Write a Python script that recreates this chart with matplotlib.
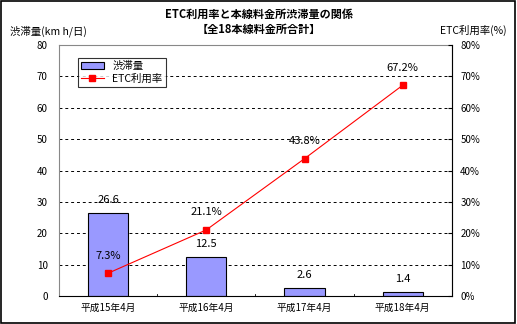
import numpy as np
import matplotlib.pyplot as plt
from matplotlib.ticker import FuncFormatter

plt.rcParams['font.family'] = ['Noto Sans CJK JP', 'DejaVu Sans']

# Data
periods = ['平成15年4月', '平成16年4月', '平成17年4月', '平成18年4月']
congestion = [26.6, 12.5, 2.6, 1.4]      # km・h/日
etc_rate = [7.3, 21.1, 43.8, 67.2]       # %

fig = plt.figure(figsize=(5.17, 3.24), dpi=100)
fig.patch.set_facecolor('white')
fig.patches.append(plt.Rectangle((0.002, 0.003), 0.995, 0.994, transform=fig.transFigure,
                                 fill=False, edgecolor='black', linewidth=1.2))

ax = fig.add_axes([0.114, 0.086, 0.760, 0.775])
x = np.arange(len(periods))

bars = ax.bar(x, congestion, width=0.41, color='#9999FF', edgecolor='black',
              linewidth=0.8, label='渋滞量', zorder=2)
ax.set_xlim(-0.5, len(periods) - 0.5)
ax.set_ylim(0, 80)
ax.set_yticks(range(0, 81, 10))
ax.set_xticks(x)
ax.set_xticklabels(periods, fontsize=7)
ax.tick_params(axis='y', labelsize=7, length=0, pad=8)
ax.tick_params(axis='x', length=0, pad=5)
for v in range(10, 80, 10):
    ax.axhline(v, color='black', linestyle=(0, (3, 3)), linewidth=0.7, zorder=1)
for s in ['top', 'left', 'right']:
    ax.spines[s].set_color('#888888')
    ax.spines[s].set_linewidth(0.8)
ax.spines['bottom'].set_linewidth(0.8)
# small category separator ticks
for b in np.arange(0.5, len(periods) - 0.5, 1):
    ax.plot([b, b], [0, 0.8], color='black', linewidth=0.6, zorder=3)

for xi, v in zip(x, congestion):
    ax.text(xi, v + 2.5, f'{v}', ha='center', va='bottom', fontsize=8)

ax2 = ax.twinx()
ax2.set_position(ax.get_position())
line, = ax2.plot(x, etc_rate, color='red', linewidth=0.8, marker='s', markersize=5,
                 label='ETC利用率', zorder=4)
ax2.set_ylim(0, 80)
ax2.set_yticks(range(0, 81, 10))
ax2.yaxis.set_major_formatter(FuncFormatter(lambda v, p: f'{int(v)}%'))
ax2.tick_params(axis='y', labelsize=7, length=3, direction='in', pad=6)
ax2.spines['right'].set_color('black')
ax2.spines['right'].set_linewidth(0.8)
for s in ['top', 'left', 'bottom']:
    ax2.spines[s].set_visible(False)

for xi, v in zip(x, etc_rate):
    ax2.text(xi, v + 4, f'{v}%', ha='center', va='bottom', fontsize=8)

leg = ax.legend(handles=[bars, line], loc='upper left', bbox_to_anchor=(0.035, 0.97),
                fontsize=7.5, frameon=True, fancybox=False, edgecolor='black',
                borderpad=0.3, handlelength=2.2, labelspacing=0.2)
leg.get_frame().set_linewidth(0.8)

fig.text(0.5, 0.955, 'ETC利用率と本線料金所渋滞量の関係', ha='center', va='center',
         fontsize=8, fontweight='bold')
fig.text(0.5, 0.908, '【全18本線料金所合計】', ha='center', va='center',
         fontsize=8, fontweight='bold')
fig.text(0.02, 0.905, '渋滞量(km h/日)', ha='left', va='center', fontsize=7.5)
fig.text(0.98, 0.905, 'ETC利用率(%)', ha='right', va='center', fontsize=7.5)

fig.savefig('out.png', dpi=100)
